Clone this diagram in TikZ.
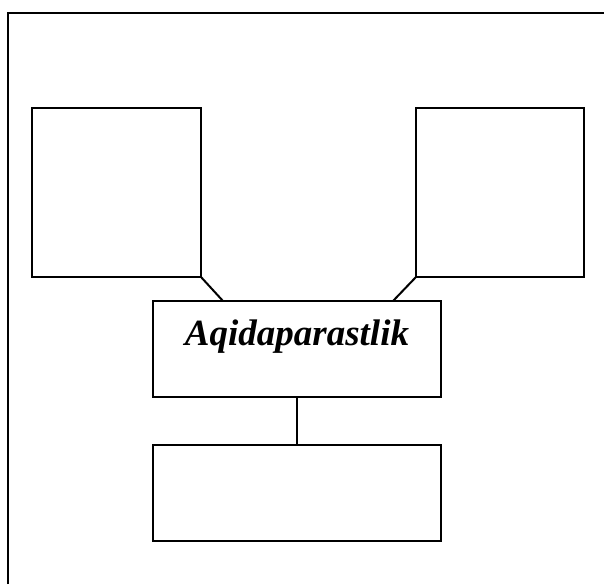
\documentclass[tikz,border=0pt]{standalone}
\usepackage{fontspec}
\setmainfont{Liberation Serif}
\begin{document}
\begin{tikzpicture}[x=1pt,y=-1pt,
  box/.style={draw, line width=2pt, inner sep=0pt, outer sep=0pt, rectangle},
  conn/.style={draw, line width=2pt},
  frameline/.style={draw, line width=2pt}]
\useasboundingbox (0,0) rectangle (604,584);
% outer frame (only top and left edges visible)
\coordinate (fa) at (8,584);
\coordinate (fb) at (8,13);
\coordinate (fc) at (604,13);
\draw[frameline] (fa) -- (fb) -- (fc);
% boxes
\node[box, minimum width=169pt, minimum height=169pt] (L) at (116.5,192.5) {};
\node[box, minimum width=168pt, minimum height=169pt] (R) at (500,192.5) {};
\node[box, minimum width=288pt, minimum height=96pt] (C) at (297,349) {};
\node[box, minimum width=288pt, minimum height=96pt] (B) at (297,493) {};
\node[anchor=base, inner sep=0pt, font=\bfseries\itshape\fontsize{37}{40}\selectfont] (T) at (297,345) {Aqidaparastlik};
% connectors
\coordinate (dl) at (223,301);
\coordinate (dr) at (393,301);
\draw[conn] (L.south east) -- (dl);
\draw[conn] (R.south west) -- (dr);
\draw[conn] (C.south) -- (B.north);
\end{tikzpicture}
\end{document}
